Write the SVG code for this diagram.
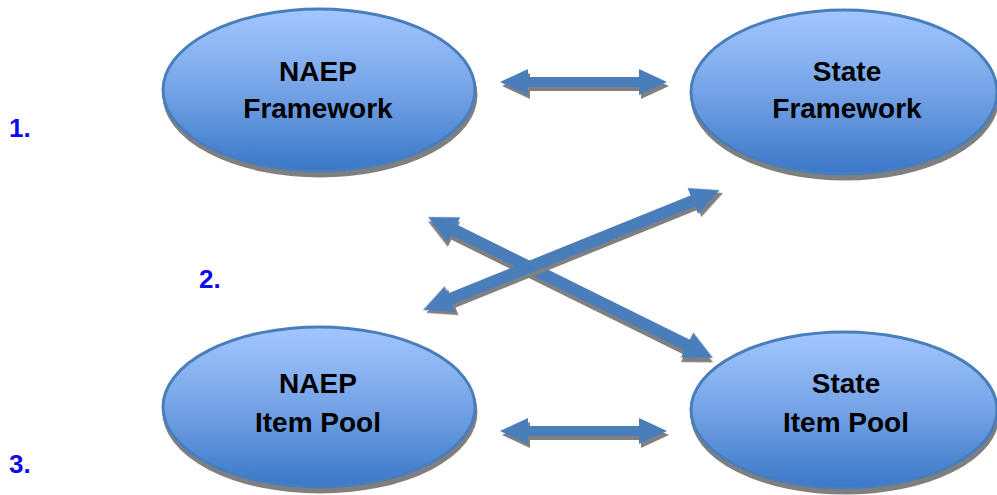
<svg xmlns="http://www.w3.org/2000/svg" width="997" height="495" viewBox="0 0 997 495">
<defs>
<linearGradient id="fillGrad" x1="0" y1="0" x2="0" y2="1">
<stop offset="0" stop-color="#a3c7ff"/>
<stop offset="0.5" stop-color="#74a3e6"/>
<stop offset="1" stop-color="#3a78c8"/>
</linearGradient>
<filter id="shadow" x="-10%" y="-10%" width="120%" height="130%">
<feFlood flood-color="#7f7f7f" result="g"/>
<feComposite in="g" in2="SourceAlpha" operator="in" result="s"/>
<feOffset in="s" dx="1" dy="5" result="o"/>
<feGaussianBlur in="o" stdDeviation="0.6" result="b"/>
<feMerge><feMergeNode in="b"/><feMergeNode in="SourceGraphic"/></feMerge>
</filter>
<filter id="ashadow" x="-10%" y="-30%" width="120%" height="170%">
<feFlood flood-color="#808080" result="g"/>
<feComposite in="g" in2="SourceAlpha" operator="in" result="s"/>
<feOffset in="s" dx="2" dy="4" result="o"/>
<feMerge><feMergeNode in="o"/><feMergeNode in="SourceGraphic"/></feMerge>
</filter>
</defs>
<style>
.node ellipse{fill:url(#fillGrad);stroke:#4a7ebb;stroke-width:3;filter:url(#shadow)}
.node text{font-family:"Liberation Sans",Arial,sans-serif;font-weight:bold;font-size:28px;fill:#000;text-anchor:middle}
.num{font-family:"Liberation Sans",Arial,sans-serif;font-weight:bold;font-size:26px;fill:#0c0cf0}
.arrow{fill:#4a7ebb;filter:url(#ashadow)}
</style>
<g id="connectors">
<polygon class="arrow" transform="translate(500,82)" points="0,0 28,-13 28,-5 139,-5 139,-13 167,0 139,13 139,5 28,5 28,13"/>
<polygon class="arrow" transform="translate(500,431)" points="0,0 28,-13 28,-5 139,-5 139,-13 167,0 139,13 139,5 28,5 28,13"/>
<polygon class="arrow" transform="translate(428,217) rotate(26.3)" points="0,0 29,-14 29,-6 289,-6 289,-14 318,0 289,14 289,6 29,6 29,14"/>
<polygon class="arrow" transform="translate(423,310) rotate(-22)" points="0,0 29,-14 29,-6 291,-6 291,-14 320,0 291,14 291,6 29,6 29,14"/>
</g>
<g id="naep-framework" class="node">
<ellipse cx="319" cy="90" rx="156" ry="81"/>
<text x="318" y="81">NAEP</text>
<text x="318" y="118">Framework</text>
</g>
<g id="state-framework" class="node">
<ellipse cx="844" cy="92" rx="153" ry="82"/>
<text x="847" y="81">State</text>
<text x="847" y="118">Framework</text>
</g>
<g id="naep-item-pool" class="node">
<ellipse cx="319" cy="407" rx="156" ry="80"/>
<text x="318" y="393">NAEP</text>
<text x="318" y="432">Item Pool</text>
</g>
<g id="state-item-pool" class="node">
<ellipse cx="844" cy="410" rx="153" ry="78"/>
<text x="846" y="393">State</text>
<text x="846" y="432">Item Pool</text>
</g>
<g id="numbers">
<text class="num" x="9" y="137">1.</text>
<text class="num" x="199" y="288">2.</text>
<text class="num" x="9" y="473">3.</text>
</g>
</svg>
